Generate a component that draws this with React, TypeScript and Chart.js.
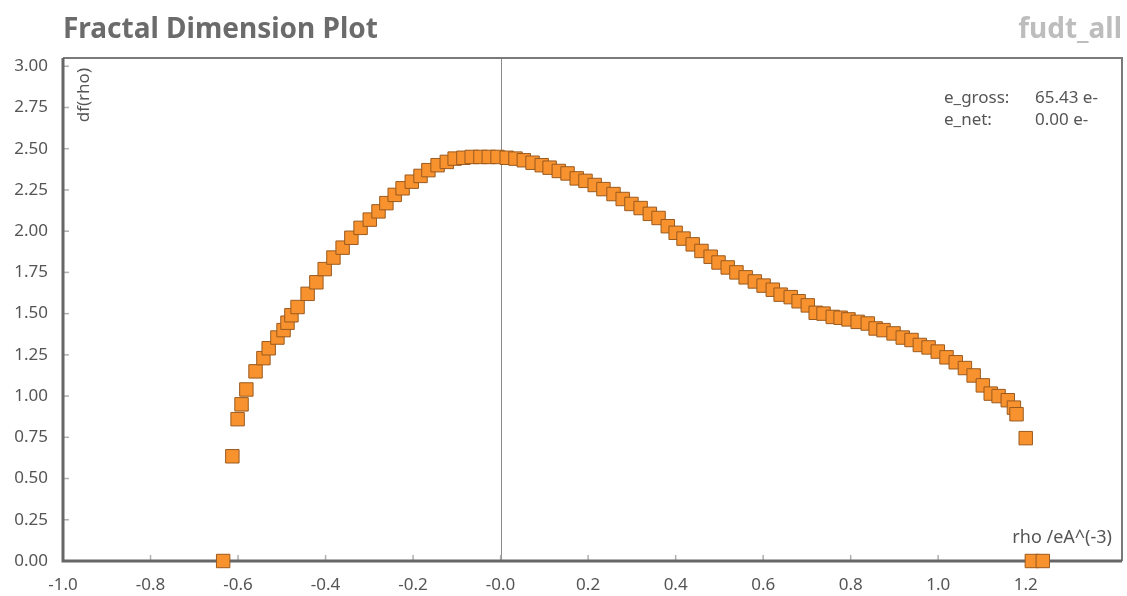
import React, { useEffect, useRef } from "react";
import { Chart, registerables } from "chart.js";

Chart.register(...registerables);

const chartTitle = "Fractal Dimension Plot";
const chartTag = "fudt_all";
const xAxisLabel = "rho /eA^(-3)";
const yAxisLabel = "df(rho)";
const infoLabels = ["e_gross:", "e_net:"];
const infoValues = ["65.43 e-", "0.00 e-"];

const xRange = [-1.0, 1.42];
const yRange = [0, 3.05];
const xStep = 0.2;
const yStep = 0.25;
const xLastTick = 1.2;

const rho = [
  -0.634, -0.613, -0.601, -0.592, -0.581, -0.56, -0.542, -0.53, -0.51, -0.496,
  -0.487, -0.478, -0.464, -0.441, -0.421, -0.402, -0.382, -0.361, -0.341, -0.32,
  -0.299, -0.279, -0.261, -0.242, -0.224, -0.203, -0.183, -0.165, -0.144, -0.123,
  -0.105, -0.085, -0.066, -0.046, -0.027, -0.007, 0.014, 0.034, 0.053, 0.073,
  0.094, 0.112, 0.133, 0.153, 0.174, 0.194, 0.215, 0.235, 0.258, 0.279,
  0.299, 0.32, 0.341, 0.361, 0.382, 0.4, 0.418, 0.439, 0.459, 0.48,
  0.498, 0.519, 0.539, 0.56, 0.581, 0.601, 0.622, 0.64, 0.663, 0.681,
  0.702, 0.72, 0.738, 0.759, 0.777, 0.795, 0.816, 0.839, 0.857, 0.875,
  0.898, 0.919, 0.939, 0.958, 0.978, 0.999, 1.019, 1.04, 1.061, 1.081,
  1.102, 1.12, 1.138, 1.159, 1.173, 1.179, 1.2, 1.214, 1.239,
];

const dfRho = [
  0.0, 0.635, 0.86, 0.95, 1.04, 1.15, 1.23, 1.29, 1.355, 1.4,
  1.445, 1.49, 1.54, 1.62, 1.69, 1.77, 1.84, 1.9, 1.96, 2.02,
  2.07, 2.12, 2.17, 2.22, 2.26, 2.3, 2.335, 2.37, 2.4, 2.42,
  2.44, 2.445, 2.45, 2.45, 2.45, 2.45, 2.445, 2.44, 2.43, 2.415,
  2.4, 2.385, 2.365, 2.35, 2.32, 2.305, 2.28, 2.255, 2.225, 2.195,
  2.165, 2.14, 2.105, 2.08, 2.03, 1.99, 1.955, 1.92, 1.88, 1.845,
  1.81, 1.78, 1.75, 1.72, 1.695, 1.67, 1.645, 1.615, 1.6, 1.575,
  1.55, 1.505, 1.5, 1.48, 1.475, 1.465, 1.45, 1.44, 1.41, 1.4,
  1.38, 1.355, 1.34, 1.31, 1.295, 1.27, 1.235, 1.205, 1.17, 1.125,
  1.065, 1.015, 1.0, 0.975, 0.93, 0.89, 0.745, 0.0, 0.0,
];

const FONT = "'Noto Sans', 'Open Sans', sans-serif";

const decorPlugin = {
  id: "decor",
  beforeDatasetsDraw(chart: any) {
    const { ctx, chartArea: a, scales } = chart;
    ctx.save();
    const x0 = scales.x.getPixelForValue(0);
    ctx.strokeStyle = "#8a8a8a";
    ctx.lineWidth = 1;
    ctx.beginPath();
    ctx.moveTo(Math.round(x0) + 0.5, a.top);
    ctx.lineTo(Math.round(x0) + 0.5, a.bottom);
    ctx.stroke();
    ctx.strokeStyle = "#b0b0b0";
    ctx.lineWidth = 1.5;
    scales.x.ticks.forEach((t: any) => {
      const px = scales.x.getPixelForValue(t.value);
      ctx.beginPath();
      ctx.moveTo(px, a.bottom);
      ctx.lineTo(px, a.bottom - 6);
      ctx.stroke();
    });
    scales.y.ticks.forEach((t: any) => {
      const py = scales.y.getPixelForValue(t.value);
      ctx.beginPath();
      ctx.moveTo(a.left, py);
      ctx.lineTo(a.left + 6, py);
      ctx.stroke();
    });
    ctx.strokeStyle = "#7a7a7a";
    ctx.lineWidth = 2;
    ctx.beginPath();
    ctx.moveTo(a.left, a.top);
    ctx.lineTo(a.right, a.top);
    ctx.lineTo(a.right, a.bottom);
    ctx.stroke();
    ctx.strokeStyle = "#666666";
    ctx.lineWidth = 3;
    ctx.beginPath();
    ctx.moveTo(a.left, a.top);
    ctx.lineTo(a.left, a.bottom);
    ctx.lineTo(a.right, a.bottom);
    ctx.stroke();
    ctx.restore();
  },
  afterDraw(chart: any) {
    const { ctx, chartArea: a } = chart;
    ctx.save();
    ctx.textBaseline = "alphabetic";
    ctx.font = `bold 28px ${FONT}`;
    ctx.fillStyle = "#6b6b6b";
    ctx.textAlign = "left";
    ctx.fillText(chartTitle, a.left, 38);
    ctx.fillStyle = "#bdbdbd";
    ctx.textAlign = "right";
    ctx.fillText(chartTag, a.right, 38);

    ctx.font = `17px ${FONT}`;
    ctx.fillStyle = "#555555";
    ctx.textAlign = "left";
    infoLabels.forEach((l, i) => {
      ctx.fillText(l, 944, 103 + i * 22);
      ctx.fillText(infoValues[i], 1035, 103 + i * 22);
    });

    ctx.font = `18px ${FONT}`;
    ctx.textAlign = "right";
    ctx.fillText(xAxisLabel, a.right - 10, 543);

    ctx.save();
    ctx.translate(89, a.top + 10);
    ctx.rotate(-Math.PI / 2);
    ctx.font = `17px ${FONT}`;
    ctx.textAlign = "right";
    ctx.fillText(yAxisLabel, 0, 0);
    ctx.restore();
    ctx.restore();
  },
};

export default function App() {
  const ref = useRef<HTMLCanvasElement>(null);
  useEffect(() => {
    if (!ref.current) return;
    const chart = new Chart(ref.current, {
      type: "scatter",
      data: {
        datasets: [
          {
            data: rho.map((x, i) => ({ x, y: dfRho[i] })),
            pointStyle: "rect",
            pointRadius: 9.5,
            pointHoverRadius: 9.5,
            backgroundColor: "#f7922f",
            borderColor: "#9b5a1e",
            borderWidth: 1,
            clip: false,
          } as any,
        ],
      },
      options: {
        responsive: false,
        animation: false,
        layout: { autoPadding: false, padding: { top: 58, right: 5, left: 0, bottom: 0 } },
        plugins: { legend: { display: false }, tooltip: { enabled: false } },
        scales: {
          x: {
            type: "linear",
            min: xRange[0],
            max: xRange[1],
            grid: { display: false, drawTicks: false },
            border: { display: false },
            afterBuildTicks: (s: any) => {
              s.ticks = s.ticks.filter((t: any) => t.value <= xLastTick + 1e-9);
            },
            afterFit: (s: any) => {
              s.height = 35;
              s.paddingRight = 0;
              s.paddingLeft = 0;
            },
            ticks: {
              stepSize: xStep,
              includeBounds: false,
              padding: 14,
              color: "#555555",
              font: { family: FONT, size: 17 },
              maxRotation: 0,
              autoSkip: false,
              callback: (v: any) => (Math.abs(Number(v)) < 1e-9 ? "-0.0" : Number(v).toFixed(1)),
            },
          },
          y: {
            type: "linear",
            min: yRange[0],
            max: yRange[1],
            grid: { display: false, drawTicks: false },
            border: { display: false },
            afterFit: (s: any) => {
              s.width = 63;
              s.paddingTop = 0;
              s.paddingBottom = 0;
            },
            ticks: {
              stepSize: yStep,
              includeBounds: false,
              padding: 15,
              color: "#555555",
              font: { family: FONT, size: 17 },
              callback: (v: any) => Number(v).toFixed(2),
            },
          },
        },
      },
      plugins: [decorPlugin],
    });
    return () => chart.destroy();
  }, []);
  return (
    <div style={{ position: "fixed", left: 0, top: 0, width: 1127, height: 596, background: "#fff" }}>
      <canvas ref={ref} width={1127} height={596} />
    </div>
  );
}
